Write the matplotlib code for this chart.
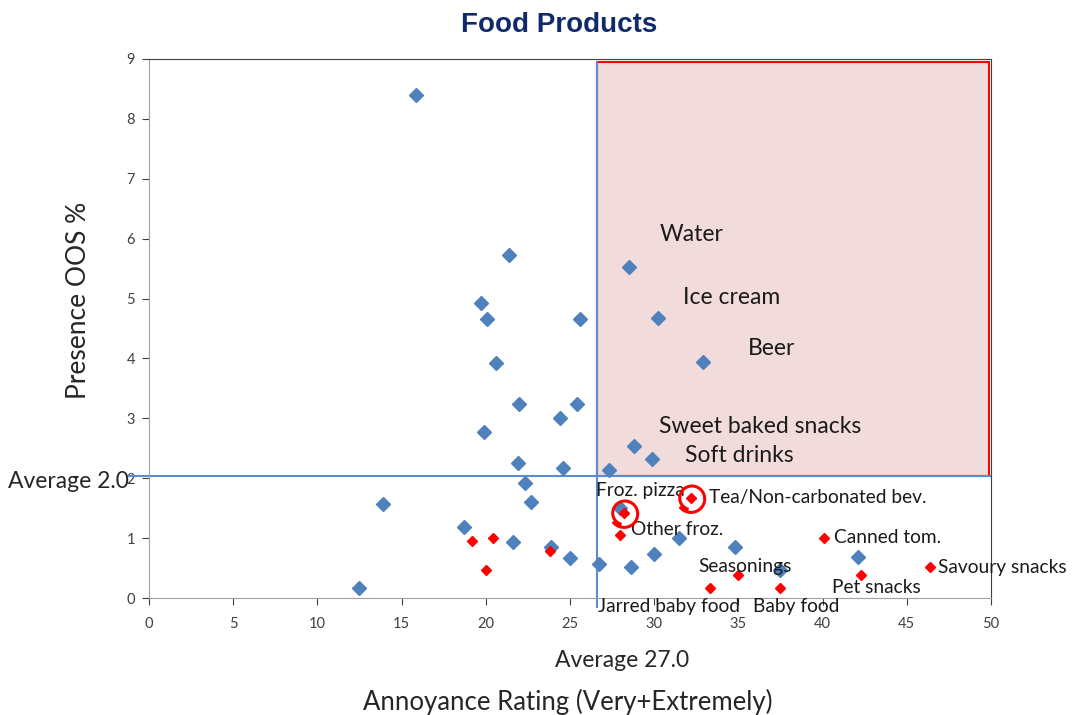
import numpy as np
import matplotlib
matplotlib.use("Agg")
import matplotlib.pyplot as plt
from matplotlib.patches import Rectangle
from matplotlib.path import Path

plt.rcParams['font.family'] = ['Lato', 'DejaVu Sans']

# all food categories (blue)
blue_x = [15.85, 21.4, 28.5, 19.7, 20.1, 25.6, 30.2, 20.6, 32.9, 22.0, 25.4, 24.4,
          19.9, 28.8, 29.9, 21.9, 24.6, 27.3, 22.3, 22.7, 13.9, 28.0, 18.7, 21.6,
          23.9, 25.0, 26.7, 28.6, 30.0, 31.5, 34.8, 42.1, 37.5, 12.5]
blue_y = [8.40, 5.73, 5.53, 4.92, 4.66, 4.66, 4.67, 3.92, 3.94, 3.24, 3.24, 3.00,
          2.77, 2.54, 2.32, 2.25, 2.17, 2.14, 1.92, 1.61, 1.57, 1.51, 1.18, 0.93,
          0.85, 0.67, 0.57, 0.51, 0.73, 1.00, 0.85, 0.69, 0.46, 0.16]

# highlighted categories (red)
red_x = [19.2, 20.4, 20.0, 23.8, 28.2, 28.0, 32.2, 40.1, 46.4, 35.0, 33.3, 37.5, 42.3]
red_y = [0.95, 1.00, 0.47, 0.78, 1.42, 1.05, 1.67, 1.00, 0.52, 0.38, 0.17, 0.17, 0.38]

avg_x = 26.6
avg_y = 2.04

# label name, series, index in series
labels = [
    ("Water", "b", 2),
    ("Ice cream", "b", 6),
    ("Beer", "b", 8),
    ("Sweet baked snacks", "b", 13),
    ("Soft drinks", "b", 14),
    ("Froz. pizza", "r", 4),
    ("Tea/Non-carbonated bev.", "r", 6),
    ("Other froz.", "r", 5),
    ("Canned tom.", "r", 7),
    ("Seasonings", "r", 9),
    ("Savoury snacks", "r", 8),
    ("Pet snacks", "r", 12),
    ("Jarred baby food", "r", 10),
    ("Baby food", "r", 11),
]
# pixel offsets of the label text from its point (left edge, centre)
offsets = {
    "Water": (31, 32), "Ice cream": (25, 21), "Beer": (45, 14),
    "Sweet baked snacks": (25, 19), "Soft drinks": (33, 4),
    "Froz. pizza": (-28, 22), "Tea/Non-carbonated bev.": (18, 1),
    "Other froz.": (11, 6), "Canned tom.": (10, 1), "Seasonings": (-40, 9),
    "Savoury snacks": (8, -1), "Pet snacks": (-29, -12),
    "Jarred baby food": (-112, -19), "Baby food": (-27, -19),
}
big = {"Water", "Ice cream", "Beer", "Sweet baked snacks", "Soft drinks"}
circled = [("r", 4), ("r", 6)]

# hand-drawn looking ring (open spiral) used as a marker
t = np.linspace(np.radians(215), np.radians(215 + 400), 80)
rr = np.linspace(1.0, 0.78, t.size)
ring = Path(np.column_stack([rr * np.cos(t), rr * np.sin(t)]))

fig = plt.figure(figsize=(10.72, 7.15), dpi=100)
ax = fig.add_axes([0.139, 0.1636, 0.7854, 0.7539])

ax.add_patch(Rectangle((avg_x, avg_y), 49.9 - avg_x, 8.95 - avg_y,
                       facecolor="#F2DCDB", edgecolor="red", lw=1.5, zorder=1))
ax.plot([-1.2, 50], [avg_y, avg_y], color="#5B8BD0", lw=1.5, clip_on=False, zorder=2)
ax.plot([avg_x, avg_x], [-0.15, 8.95], color="#5B8BD0", lw=1.5, clip_on=False, zorder=2)

ax.plot(blue_x, blue_y, ls="none", marker="D", ms=7, color="#4F81BD", zorder=3)
ax.plot(red_x, red_y, ls="none", marker="D", ms=5.5, color="#FF0000", zorder=4)

pts = {"b": (blue_x, blue_y), "r": (red_x, red_y)}
for name, s, i in labels:
    px, py = pts[s][0][i], pts[s][1][i]
    ax.annotate(name, (px, py), xytext=offsets[name], textcoords="offset pixels",
                ha="left", va="center", fontsize=16.5 if name in big else 13.8,
                color="#1a1a1a", zorder=5, annotation_clip=False)

for s, i in circled:
    ax.plot(pts[s][0][i], pts[s][1][i], marker=ring, ms=20, mfc="none",
            mec="red", mew=2.2, ls="none", zorder=5)

ax.set_xlim(0, 50)
ax.set_ylim(0, 9)
ax.set_xticks(np.arange(0, 51, 5))
ax.set_yticks(np.arange(0, 10, 1))
ax.tick_params(labelsize=10.5, colors="#404040", length=5, width=0.8, pad=5)
ax.tick_params(axis="x", pad=9)
for sp in ["left", "bottom"]:
    ax.spines[sp].set_color("#A0A0A0")
for sp in ["top", "right"]:
    ax.spines[sp].set_color("#404040")

ax.text(-1.2, 1.95, "Average 2.0", ha="right", va="center", fontsize=16.5, color="#262626")
fig.text(0.58, 0.076, "Average 27.0", ha="center", va="center", fontsize=16.5, color="#262626")
fig.text(0.53, 0.018, "Annoyance Rating (Very+Extremely)", ha="center", va="center",
         fontsize=18.5, color="#262626")
fig.text(0.073, 0.58, "Presence OOS %", rotation=90, ha="center", va="center",
         fontsize=19, color="#262626")
fig.text(0.522, 0.965, "Food Products", ha="center", va="center", fontsize=20,
         fontweight="bold", color="#0F2A6B", family="Liberation Sans")

fig.savefig("out.png", dpi=100)
